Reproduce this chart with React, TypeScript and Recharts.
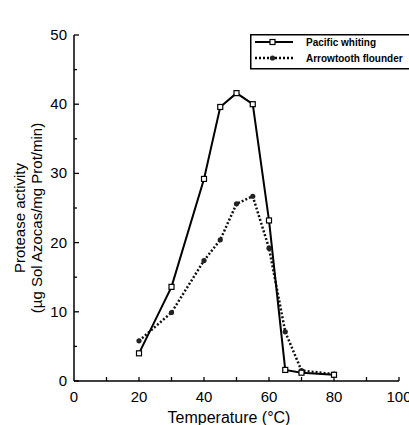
import React from 'react';
import {
  LineChart,
  Line,
  XAxis,
  YAxis,
  Legend,
  Label,
} from 'recharts';

// Temperature (°C)
const temps = [20, 30, 40, 45, 50, 55, 60, 65, 70, 80];
// Protease activity (µg Sol Azocas/mg Prot/min)
const pacificWhiting = [4.0, 13.6, 29.2, 39.6, 41.6, 40.0, 23.2, 1.6, 1.2, 0.9];
const arrowtoothFlounder = [5.8, 9.9, 17.4, 20.4, 25.6, 26.7, 19.2, 7.1, 1.5, 1.0];

const xTicks = [0, 10, 20, 30, 40, 50, 60, 70, 80, 90, 100];
const yTicks = [0, 5, 10, 15, 20, 25, 30, 35, 40, 45, 50];

const seriesNames = ['Pacific whiting', 'Arrowtooth flounder'];

const chartData = temps.map((t, i) => ({
  temp: t,
  whiting: pacificWhiting[i],
  arrowtooth: arrowtoothFlounder[i],
}));

const FONT = '"Liberation Sans", Arial, Helvetica, sans-serif';

const YTick = ({ x, y, payload }: any) => {
  const v = payload.value;
  const major = v % 10 === 0;
  return (
    <g>
      <line x1={x} y1={y} x2={x + (major ? 5 : 3)} y2={y} stroke="#000" strokeWidth={1.3} />
      {major && (
        <text x={x - 7} y={y + 5} textAnchor="end" fontSize={15} fontFamily={FONT} fill="#000">
          {v}
        </text>
      )}
    </g>
  );
};

const XTick = ({ x, y, payload }: any) => {
  const v = payload.value;
  const labeled = v % 20 === 0;
  return (
    <g>
      {v > 0 && <line x1={x} y1={y} x2={x} y2={y - 4} stroke="#000" strokeWidth={1.3} />}
      {labeled && (
        <text x={x} y={y + 21} textAnchor="middle" fontSize={15} fontFamily={FONT} fill="#000">
          {v}
        </text>
      )}
    </g>
  );
};

const SquareDot = ({ cx, cy }: any) => (
  <rect x={cx - 2.5} y={cy - 2.5} width={5} height={5} fill="#fff" stroke="#000" strokeWidth={1.2} />
);

const CircleDot = ({ cx, cy }: any) => <circle cx={cx} cy={cy} r={2.6} fill="#222" stroke="none" />;

const LegendBox = () => (
  <svg width={190} height={36} style={{ display: 'block' }}>
    <rect x={0.75} y={0.75} width={200} height={34} fill="#fff" stroke="#000" strokeWidth={1.5} />
    <line x1={5} y1={8} x2={43} y2={8} stroke="#000" strokeWidth={2} />
    <rect x={20} y={5.5} width={5} height={5} fill="#fff" stroke="#000" strokeWidth={1.2} />
    <text x={56} y={11.5} fontSize={10} fontWeight="bold" fontFamily={FONT} fill="#000">
      {seriesNames[0]}
    </text>
    <line x1={5} y1={24} x2={43} y2={24} stroke="#000" strokeWidth={2.5} strokeDasharray="2 2" />
    <circle cx={22.5} cy={24} r={2.6} fill="#222" />
    <text x={56} y={27.5} fontSize={10} fontWeight="bold" fontFamily={FONT} fill="#000">
      {seriesNames[1]}
    </text>
  </svg>
);

const YTitle = () => (
  <g fontFamily={FONT} fontSize={15} fill="#000">
    <text x={25} y={218} textAnchor="middle" transform="rotate(-90, 25, 218)">
      Protease activity
    </text>
    <text x={42} y={218} textAnchor="middle" transform="rotate(-90, 42, 218)">
      (µg Sol Azocas/mg Prot/min)
    </text>
  </g>
);

const XTitle = () => (
  <text x={229} y={423} textAnchor="middle" fontFamily={FONT} fontSize={16} fill="#000">
    Temperature (°C)
  </text>
);

const App: React.FC = () => {
  return (
    <div
      style={{
        position: 'absolute',
        left: 0,
        top: 0,
        width: 409,
        height: 425,
        overflow: 'hidden',
        background: '#fff',
      }}
    >
      <LineChart
        width={430}
        height={425}
        data={chartData}
        margin={{ top: 35, right: 31, left: 0, bottom: 0 }}
      >
        <XAxis
          dataKey="temp"
          type="number"
          domain={[0, 100]}
          ticks={xTicks}
          interval={0}
          height={44}
          tickSize={0}
          tickMargin={0}
          tick={<XTick />}
          axisLine={{ stroke: '#000', strokeWidth: 1.5 }}
        >
          <Label content={<XTitle />} />
        </XAxis>
        <YAxis
          type="number"
          domain={[0, 50]}
          ticks={yTicks}
          interval={0}
          width={74}
          tickSize={0}
          tickMargin={0}
          tick={<YTick />}
          axisLine={{ stroke: '#000', strokeWidth: 1.5 }}
        >
          <Label content={<YTitle />} />
        </YAxis>
        <Legend
          layout="horizontal"
          verticalAlign="middle"
          align="center"
          content={<LegendBox />}
          wrapperStyle={{ position: 'absolute', left: 250, top: 34, width: 190 }}
        />
        <Line
          type="linear"
          dataKey="arrowtooth"
          name={seriesNames[1]}
          stroke="#111"
          strokeWidth={2.5}
          strokeDasharray="2 2"
          dot={<CircleDot />}
          isAnimationActive={false}
        />
        <Line
          type="linear"
          dataKey="whiting"
          name={seriesNames[0]}
          stroke="#000"
          strokeWidth={2}
          dot={<SquareDot />}
          isAnimationActive={false}
        />
      </LineChart>
    </div>
  );
};

export default App;
